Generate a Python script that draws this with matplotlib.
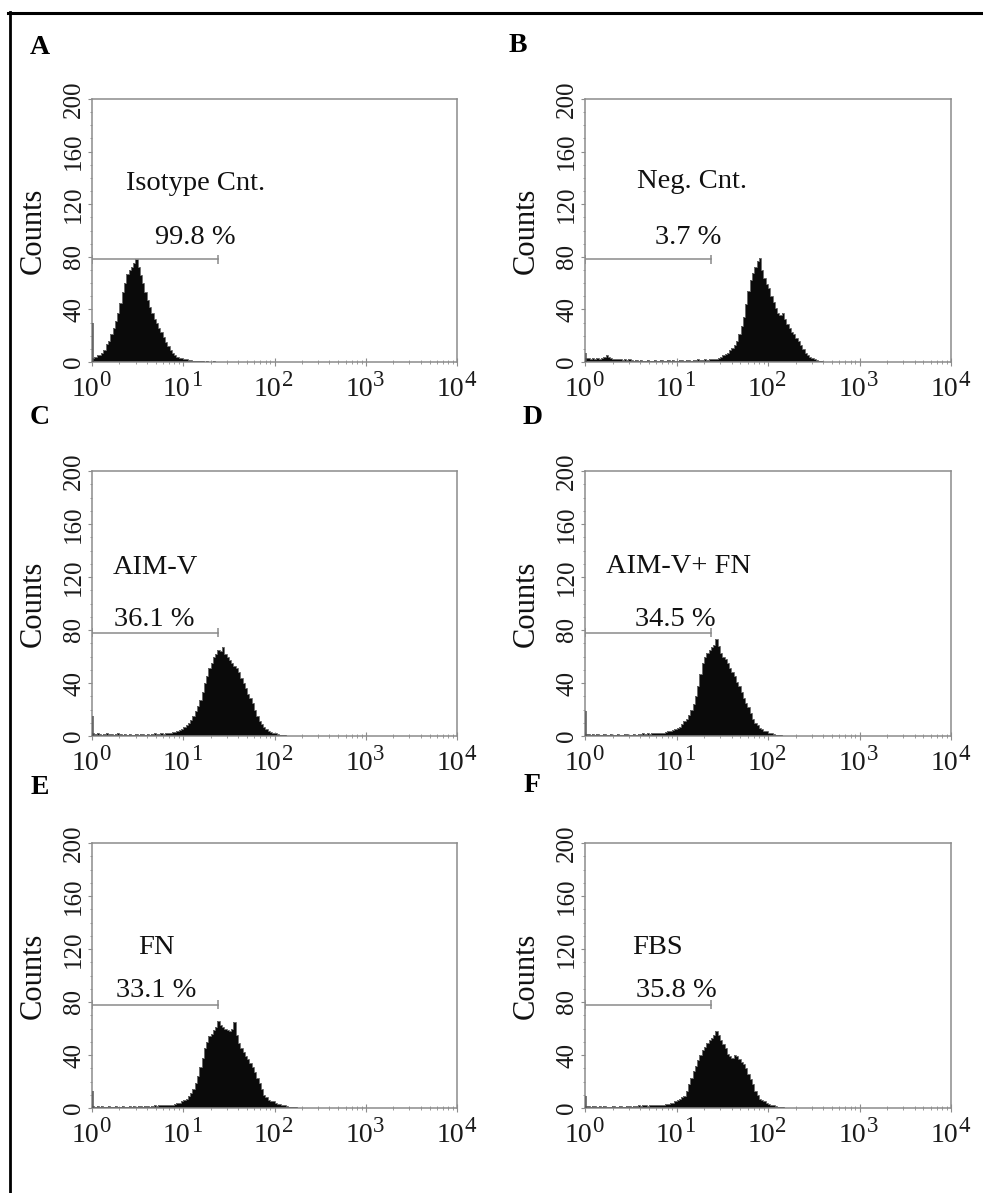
import numpy as np
import matplotlib
matplotlib.use("Agg")
import matplotlib.pyplot as plt
from matplotlib.lines import Line2D
from matplotlib.ticker import LogLocator, MultipleLocator, FixedLocator

plt.rcParams["font.family"] = ["Liberation Serif", "DejaVu Serif"]

# ---- data -----------------------------------------------------------------
panel_letters = ["A", "B", "C", "D", "E", "F"]
sample_names = ["Isotype Cnt.", "Neg. Cnt.", "AIM-V", "AIM-V+ FN", "FN", "FBS"]
gated_percent = ["99.8 %", "3.7 %", "36.1 %", "34.5 %", "33.1 %", "35.8 %"]

# histogram bin width in decades of fluorescence (bins start at 10^0)
bin_decades = 0.025

# counts in the very first channel (events piled up on the axis)
channel0_counts = [30, 7, 15, 19, 13, 9]

counts_A = [3, 4, 5, 5, 7, 9, 14, 16, 21, 26, 31, 37, 45, 53, 60, 67, 70, 72, 75,
            78, 72, 66, 60, 53, 47, 42, 37, 33, 30, 26, 23, 19, 15, 12, 9, 7, 5,
            4, 3, 3, 2, 2, 1.5, 1.5, 1, 1, 0.5, 1, 0.5, 0.3, 0.5, 0.3, 0.3, 0.5,
            0.3, 0, 0.3, 0, 0.3, 0, 0, 0, 0, 0]

counts_B = [3, 3, 2.5, 3, 2, 3, 2.5, 3, 4, 5, 4, 3,
            2.5, 2, 2.5, 2, 1.5, 2, 1.5, 2, 1.5, 1, 1.5, 1, 1.5, 1, 1, 1.5,
            1, 1, 1.5, 1, 1, 1.5, 1, 1, 1.5, 1, 1.5, 1, 1, 1.5, 1.5, 1, 1.5,
            1.5, 1, 1.5, 1.5, 2, 1.5, 1.5, 2, 1.5, 2, 2,
            2, 2.5, 3, 4, 5, 6, 7, 9, 11, 13, 16, 21, 27, 34, 44, 54, 62, 68,
            72, 77, 79, 70, 64, 59, 56, 50, 46, 41, 37, 36, 37, 33, 29, 26, 23,
            21, 18, 16, 13, 10, 7, 5, 4, 3, 2, 1.5, 1, 0.5]

counts_C = [2, 1.5, 2, 1.5, 1, 1.5, 2, 1.5, 1.5, 1, 1.5, 2, 1.5, 1, 1.5, 1, 1.5,
            1, 1, 1.5, 1, 1.5, 1.5, 1, 1.5, 1, 1.5, 2, 1.5, 1.5, 2, 1.5, 2, 2,
            2.5, 3, 3, 4, 4.5, 5.5, 7, 8, 10, 12, 15, 19, 23, 27, 33, 40, 45, 51,
            55, 60, 62, 65, 64, 67, 62, 60, 57, 55, 53, 51, 48, 44, 40, 36, 32,
            29, 25, 20, 15, 11, 9, 7, 5, 4, 3, 2.5, 2, 1.5, 1, 0.8, 0.5, 0.3,
            0.3, 0]

counts_D = [1.5, 1.5, 1, 1.5, 1, 1.5, 1, 1, 1.5, 1, 1, 1.5, 1, 1, 1.5, 1, 1, 1.5,
            1.5, 1, 1, 1.5, 1, 1.5, 1.5, 2, 1.5, 2, 1.5, 2, 2, 2.5, 2, 2.5,
            2.5, 3, 3.5, 4, 4.5, 5, 6, 7, 9, 11, 13, 16, 20, 24, 30, 38, 47, 55,
            60, 63, 65, 67, 69, 73, 68, 63, 60, 58, 55, 51, 48, 45, 41, 38, 33,
            29, 25, 22, 17, 13, 10, 8, 6, 5, 4, 3.5, 2.5, 2, 1.5, 1, 0.5, 0.5,
            0.3, 0]

counts_E = [1.5, 1, 1.5, 1, 1.5, 1, 1, 1.5, 1, 1, 1.5, 1, 1, 1.5, 1, 1, 1.5, 1,
            1.5, 1, 1.5, 1.5, 1, 1.5, 1.5, 1, 1.5, 2, 1.5, 2, 2, 2, 2.5, 2,
            2.5, 2.5, 3, 3.5, 4, 5, 6, 7, 9, 11, 14, 19, 24, 31, 38, 45, 50, 54,
            56, 59, 61, 66, 63, 61, 60, 59, 58, 60, 65, 55, 49, 45, 42, 39, 37,
            34, 31, 27, 23, 19, 14, 10, 8, 6, 5, 5, 4, 3, 3, 2.5, 2, 1.5, 1, 1,
            0.5, 0.5, 0.3, 0]

counts_F = [1.5, 1.5, 1, 1.5, 1.5, 1, 1.5, 1, 1.5, 1, 1, 1, 1.5, 1, 1, 1.5, 1, 1,
            1.5, 1.5, 1, 1.5, 1.5, 2, 1.5, 2, 2, 1.5, 2, 2, 2.5, 2, 2.5, 2.5,
            2.5, 3, 3, 3.5, 4, 5, 6, 7, 8, 9, 13, 18, 23, 28, 32, 36, 40, 44, 46,
            49, 51, 53, 55, 58, 55, 51, 48, 45, 41, 39, 38, 40, 39, 37, 35, 33,
            30, 26, 22, 18, 13, 10, 7, 6, 5, 4, 3, 2.5, 2, 1.5, 1, 0.5, 0.5, 0]

histograms = [counts_A, counts_B, counts_C, counts_D, counts_E, counts_F]

# marker gate (fluorescence range and height in counts)
gate_lo, gate_hi, gate_y = 1.0, 24.0, 78

# annotation anchors (fluorescence, counts) for the sample name and percentage
name_xy = [(13.8, 136), (14.7, 137), (4.9, 127.5), (10.4, 128), (5.1, 121), (6.2, 121)]
pct_xy = [(13.5, 95), (13.5, 95), (4.8, 88), (9.6, 88), (5.0, 89), (9.95, 89)]

y_ticks = [0, 40, 80, 120, 160, 200]
x_ticks = [1, 10, 100, 1000, 10000]
x_exponents = ["0", "1", "2", "3", "4"]

# ---- layout (pixels of the 983 x 1193 canvas) ------------------------------
W, H = 983, 1193
col_left = [92, 585]
col_width = [365, 366]
row_top = [99, 471, 843]
row_height = [263, 265, 265]
letter_pos = [(40, 48), (518, 45), (40, 417), (533, 418), (40, 788), (532, 786)]
PX = 72 / 100  # points per pixel at 100 dpi

fig = plt.figure(figsize=(W / 100, H / 100), dpi=100)
fig.patch.set_facecolor("white")

frame_gray = "#8c8c8c"
text_col = "#111111"
for i in range(6):
    r, c = divmod(i, 2)
    left = col_left[c] / W
    bottom = 1 - (row_top[r] + row_height[r]) / H
    ax = fig.add_axes([left, bottom, col_width[c] / W, row_height[r] / H])

    counts = np.asarray(histograms[i], dtype=float)
    edges = 10 ** (np.arange(len(counts) + 1) * bin_decades)
    ax.stairs(counts, edges, fill=True, color="#0a0a0a", baseline=0, zorder=2)
    ax.stairs(counts, edges, color="#6f6f6f", lw=0.7, baseline=None, zorder=3)
    ax.vlines(1.025, 0, channel0_counts[i], color="#555555", lw=1.1, zorder=3)

    # marker gate
    ax.plot([gate_lo * 1.01, gate_hi], [gate_y, gate_y], color="#8a8a8a", lw=1.1, zorder=4)
    ax.vlines([gate_lo * 1.01, gate_hi], gate_y - 3.5, gate_y + 3.5,
              color="#8a8a8a", lw=1.1, zorder=4)

    ax.text(*name_xy[i], sample_names[i], ha="center", va="center",
            fontsize=20.5, color=text_col)
    ax.text(*pct_xy[i], gated_percent[i], ha="center", va="center",
            fontsize=20.5, color=text_col)

    ax.set_xscale("log")
    ax.set_xlim(1, 10000)
    ax.set_ylim(0, 200)
    ax.xaxis.set_major_locator(FixedLocator(x_ticks))
    ax.xaxis.set_minor_locator(LogLocator(base=10, subs=np.arange(2, 10)))
    ax.set_yticks(y_ticks)
    ax.set_yticklabels([str(v) for v in y_ticks], rotation=90, va="center")
    ax.yaxis.set_minor_locator(MultipleLocator(10))

    ax.tick_params(axis="x", which="major", direction="inout", length=6, width=0.8,
                   color=frame_gray, labelbottom=False)
    ax.tick_params(axis="x", which="minor", direction="inout", length=3.5, width=0.6,
                   color=frame_gray, labelbottom=False)
    ax.tick_params(axis="y", which="major", direction="out", length=3, width=0.8,
                   color=frame_gray, labelsize=18, pad=2, labelcolor="#1a1a1a")
    ax.tick_params(axis="y", which="minor", direction="out", length=1.8, width=0.6,
                   color=frame_gray)

    # decade labels: "10" with a large raised exponent
    for v, e in zip(x_ticks, x_exponents):
        ax.annotate("10", xy=(v, 0), xycoords=("data", "axes fraction"),
                    xytext=(7 * PX, -34 * PX), textcoords="offset points",
                    ha="right", va="baseline", fontsize=20, color="#1a1a1a",
                    annotation_clip=False)
        ax.annotate(e, xy=(v, 0), xycoords=("data", "axes fraction"),
                    xytext=(7.5 * PX, -24 * PX), textcoords="offset points",
                    ha="left", va="baseline", fontsize=16.5, color="#1a1a1a",
                    annotation_clip=False)

    for s in ax.spines.values():
        s.set_color(frame_gray)
        s.set_linewidth(1.1)

    ax.set_ylabel("Counts", fontsize=22, color=text_col)
    ax.yaxis.set_label_coords(-0.12, 0.5)

    lx, ly = letter_pos[i]
    fig.text(lx / W, 1 - ly / H, panel_letters[i], ha="center", va="center",
             fontsize=20, fontweight="bold")

# outer figure rules (top and left)
fig.add_artist(Line2D([8 / W, 1.0], [1 - 12.7 / H] * 2, transform=fig.transFigure,
                      color="black", lw=2.2))
fig.add_artist(Line2D([9.5 / W] * 2, [1 - 11.5 / H, 0.0], transform=fig.transFigure,
                      color="black", lw=2.0))

fig.savefig("out.png", dpi=100, facecolor="white")
